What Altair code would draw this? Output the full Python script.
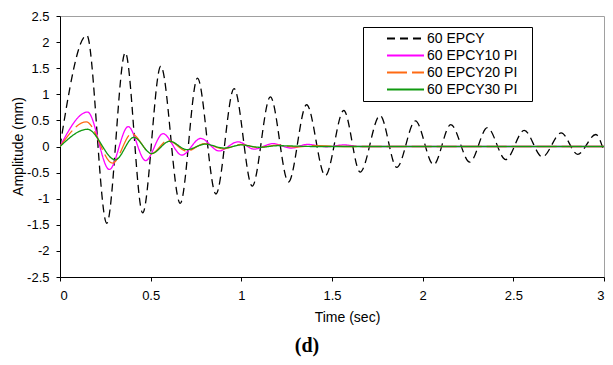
import altair as alt
import pandas as pd

series_names = ["60 EPCY", "60 EPCY10 PI", "60 EPCY20 PI", "60 EPCY30 PI"]
series_colors = ["#000000", "#ff00ff", "#ff6a13", "#109a10"]
series_dashes = [[8, 5], [1, 0], [20, 5], [1, 0]]

# 60 EPCY (peaks and troughs)
epcy_t = [0, 0.148, 0.258, 0.36, 0.456, 0.556, 0.663, 0.758, 0.86, 0.96, 1.06,
          1.16, 1.26, 1.36, 1.463, 1.565, 1.655, 1.765, 1.857, 1.96, 2.06,
          2.155, 2.26, 2.357, 2.458, 2.56, 2.66, 2.764, 2.855, 2.955, 3.0]
epcy_v = [0, 2.13, -1.47, 1.80, -1.27, 1.54, -1.09, 1.31, -0.91, 1.11, -0.76,
          0.95, -0.68, 0.80, -0.56, 0.69, -0.49, 0.595, -0.40, 0.49, -0.35,
          0.42, -0.30, 0.36, -0.25, 0.31, -0.20, 0.26, -0.15, 0.23, -0.10]

# 60 EPCY10 PI
pi10_t = [0, 0.152, 0.272, 0.376, 0.472, 0.568, 0.672, 0.776, 0.877, 0.982,
          1.07, 1.175, 1.275, 1.365, 1.47, 1.565, 1.66, 1.8, 3.0]
pi10_v = [0, 0.66, -0.44, 0.38, -0.27, 0.245, -0.165, 0.155, -0.085, 0.09,
          -0.05, 0.055, -0.03, 0.04, -0.005, 0.03, 0.0, 0.0, 0.0]

# 60 EPCY20 PI
pi20_t = [0, 0.145, 0.29, 0.395, 0.505, 0.595, 0.70, 0.795, 0.90, 0.995,
          1.09, 1.2, 1.3, 1.4, 1.6, 3.0]
pi20_v = [0, 0.47, -0.32, 0.245, -0.14, 0.12, -0.09, 0.055, -0.045, 0.04,
          -0.02, 0.025, -0.01, 0.015, 0.0, 0.0]

# 60 EPCY30 PI
pi30_t = [0, 0.152, 0.305, 0.407, 0.505, 0.605, 0.70, 0.80, 0.905, 1.0,
          1.1, 1.2, 1.4, 3.0]
pi30_v = [0, 0.33, -0.255, 0.175, -0.135, 0.10, -0.06, 0.045, -0.03, 0.03,
          -0.015, 0.015, 0.0, 0.0]

x_ticks = [0, 0.5, 1, 1.5, 2, 2.5, 3]
y_ticks = [-2.5, -2, -1.5, -1, -0.5, 0, 0.5, 1, 1.5, 2, 2.5]

rows = []
for name, ts, vs in zip(series_names, [epcy_t, pi10_t, pi20_t, pi30_t],
                        [epcy_v, pi10_v, pi20_v, pi30_v]):
    for t, v in zip(ts, vs):
        rows.append({"series": name, "t": t, "v": v})
df = pd.DataFrame(rows)

FONT = "Liberation Sans"

legend = alt.Legend(
    title="x", titleOrient="right", titleColor="white", titleFontSize=10,
    titlePadding=6, titleFont=FONT,
    orient="none", legendX=303, legendY=11,
    strokeColor="black", fillColor="white", padding=3,
    symbolType="stroke", symbolSize=1369, symbolStrokeWidth=2,
    clipHeight=17, rowPadding=0, symbolOffset=20, labelOffset=2,
    labelFont=FONT, labelFontSize=14, labelColor="black",
)

chart = alt.Chart(df).mark_line(interpolate="monotone", strokeWidth=1.3, clip=True).encode(
    x=alt.X("t:Q",
            scale=alt.Scale(domain=[0, 3], nice=False, zero=False),
            axis=alt.Axis(values=x_ticks, labelExpr="'' + datum.value",
                          title="Time (sec)", grid=False, tickSize=4,
                          labelPadding=8, titlePadding=8,
                          domainColor="black", tickColor="black",
                          labelColor="black", titleColor="black",
                          labelFont=FONT, titleFont=FONT,
                          labelFontSize=13, titleFontSize=14,
                          titleFontWeight="normal", titleX=287)),
    y=alt.Y("v:Q",
            scale=alt.Scale(domain=[-2.5, 2.5], nice=False),
            axis=alt.Axis(values=y_ticks, labelExpr="'' + datum.value",
                          title="Amplitude (mm)", grid=False, tickSize=4,
                          labelPadding=7,
                          domainColor="black", tickColor="black",
                          labelColor="black", titleColor="black",
                          labelFont=FONT, titleFont=FONT,
                          labelFontSize=13, titleFontSize=14,
                          titleFontWeight="normal", titleX=-35, titleY=130)),
    color=alt.Color("series:N",
                    scale=alt.Scale(domain=series_names, range=series_colors),
                    legend=legend),
    strokeDash=alt.StrokeDash("series:N",
                              scale=alt.Scale(domain=series_names, range=series_dashes),
                              legend=legend),
).properties(
    width=544, height=261,
    autosize=alt.AutoSizeParams(type="none"),
    padding={"left": 52, "top": 8, "right": 1, "bottom": 80},
    title=alt.TitleParams("(d)", orient="bottom", anchor="middle",
                          font="Liberation Serif", fontSize=20,
                          fontWeight="bold", color="black", offset=12, dx=-25),
).configure_view(
    stroke="#a0a0a0", strokeWidth=1
)

chart.save("out.html", embed_options={"renderer": "svg", "actions": False})
